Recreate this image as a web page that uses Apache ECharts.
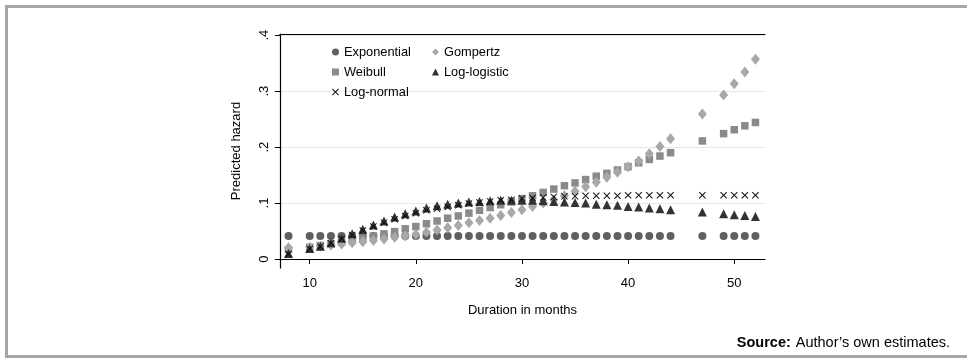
<!DOCTYPE html>
<html>
<head>
<meta charset="utf-8">
<script src="https://cdn.jsdelivr.net/npm/echarts@6/dist/echarts.min.js"></script>
<style>
html, body { margin: 0; padding: 0; background: #fff; }
#chart { width: 967px; height: 358px; }
</style>
</head>
<body>
<div id="chart"></div>
<script>
// months with predictions (gaps at 9, 45, 46, 48)
var months = [8, 10, 11, 12, 13, 14, 15, 16, 17, 18, 19, 20, 21, 22, 23, 24, 25, 26, 27, 28, 29,
	30, 31, 32, 33, 34, 35, 36, 37, 38, 39, 40, 41, 42, 43, 44, 47, 49, 50, 51, 52];

var exponential = [0.041, 0.041, 0.041, 0.041, 0.041, 0.041, 0.041, 0.041, 0.041, 0.041, 0.041,
	0.041, 0.041, 0.041, 0.041, 0.041, 0.041, 0.041, 0.041, 0.041, 0.041, 0.041, 0.041, 0.041,
	0.041, 0.041, 0.041, 0.041, 0.041, 0.041, 0.041, 0.041, 0.041, 0.041, 0.041, 0.041, 0.041,
	0.041, 0.041, 0.041, 0.041];

var weibull = [0.017, 0.021, 0.024, 0.027, 0.030, 0.033, 0.037, 0.041, 0.045, 0.049, 0.054,
	0.058, 0.063, 0.068, 0.073, 0.077, 0.082, 0.087, 0.092, 0.097, 0.102, 0.108, 0.113, 0.119,
	0.125, 0.131, 0.136, 0.142, 0.148, 0.153, 0.159, 0.165, 0.172, 0.178, 0.184, 0.190, 0.211,
	0.224, 0.231, 0.238, 0.244];

var gompertz = [0.020, 0.021, 0.023, 0.025, 0.027, 0.029, 0.031, 0.033, 0.036, 0.039, 0.041,
	0.044, 0.048, 0.052, 0.056, 0.060, 0.065, 0.069, 0.073, 0.078, 0.083, 0.088, 0.094, 0.100,
	0.106, 0.113, 0.121, 0.129, 0.137, 0.146, 0.155, 0.165, 0.175, 0.188, 0.201, 0.215, 0.259,
	0.293, 0.313, 0.334, 0.357];

var logLogistic = [0.010, 0.019, 0.023, 0.029, 0.037, 0.045, 0.053, 0.061, 0.068, 0.075, 0.081,
	0.086, 0.091, 0.095, 0.098, 0.100, 0.102, 0.103, 0.104, 0.105, 0.105, 0.105, 0.105, 0.104,
	0.103, 0.102, 0.101, 0.100, 0.098, 0.097, 0.096, 0.094, 0.093, 0.091, 0.090, 0.088, 0.084,
	0.081, 0.079, 0.078, 0.076];

var logNormal = [0.009, 0.018, 0.022, 0.028, 0.036, 0.043, 0.051, 0.058, 0.065, 0.071, 0.077,
	0.082, 0.087, 0.090, 0.093, 0.096, 0.099, 0.101, 0.103, 0.105, 0.106, 0.108, 0.109, 0.110,
	0.111, 0.112, 0.112, 0.113, 0.113, 0.113, 0.113, 0.114, 0.114, 0.114, 0.114, 0.114, 0.114,
	0.114, 0.114, 0.114, 0.114];

var xTicks = [10, 20, 30, 40, 50];
var yTicks = [0, 0.1, 0.2, 0.3, 0.4];
var yTickLabels = ['0', '.1', '.2', '.3', '.4'];

var font = "'Liberation Sans', Arial, sans-serif";
var crossPath = 'path://M0,1L1,0L5,4L9,0L10,1L6,5L10,9L9,10L5,6L1,10L0,9L4,5Z';

function pairs(vals) { // [month, value]
	return months.map(function(m, i) { return [m, vals[i]]; });
}

function scatter(name, vals, symbol, size, color) {
	return {
		name: name,
		type: 'scatter',
		data: pairs(vals),
		symbol: symbol,
		symbolSize: size,
		itemStyle: { color: color, opacity: 1 },
		emphasis: { disabled: true },
		silent: true
	};
}

var myChart = echarts.init(document.getElementById('chart'));
var option = {
	animation: false,
	backgroundColor: '#fff',
	textStyle: { fontFamily: font },
	title: {
		text: '{b|Source:} {n|Author\u2019s own estimates.}',
		right: 12,
		top: 329,
		textStyle: {
			rich: {
				b: { fontFamily: font, fontSize: 14.5, fontWeight: 'bold', color: '#000' },
				n: { fontFamily: font, fontSize: 14.5, fontWeight: 'normal', color: '#000' }
			}
		}
	},
	graphic: [{
		type: 'rect',
		shape: { x: 6.5, y: 6.5, width: 980, height: 350 },
		style: { fill: 'none', stroke: '#a6a6a6', lineWidth: 3 },
		silent: true
	}],
	legend: [{
		orient: 'vertical',
		left: 327,
		top: 40,
		itemWidth: 7,
		itemHeight: 7,
		itemGap: 6,
		data: ['Exponential', 'Weibull', 'Log-normal'],
		textStyle: { fontFamily: font, fontSize: 12.8, color: '#000', lineHeight: 14 }
	}, {
		orient: 'vertical',
		left: 427,
		top: 40,
		itemWidth: 7,
		itemHeight: 7,
		itemGap: 6,
		data: ['Gompertz', 'Log-logistic'],
		textStyle: { fontFamily: font, fontSize: 12.8, color: '#000', lineHeight: 14 }
	}],
	grid: { left: 280, right: 202, top: 34, bottom: 90 },
	xAxis: [{
		type: 'value',
		min: 7.2,
		max: 52.9,
		name: 'Duration in months',
		nameLocation: 'middle',
		nameGap: 36,
		nameTextStyle: { fontFamily: font, fontSize: 13, color: '#000' },
		axisLine: { lineStyle: { color: '#000', width: 1.2 } },
		axisTick: { customValues: xTicks, length: 5, lineStyle: { color: '#000' } },
		axisLabel: { customValues: xTicks, margin: 9, fontFamily: font, fontSize: 13, color: '#000' },
		splitLine: { show: false }
	}, {
		type: 'value',
		position: 'top',
		min: 7.2,
		max: 52.9,
		axisLine: { show: true, lineStyle: { color: '#000', width: 1.2 } },
		axisTick: { show: false },
		axisLabel: { show: false },
		splitLine: { show: false }
	}],
	yAxis: {
		type: 'value',
		min: -0.016,
		max: 0.402,
		name: 'Predicted hazard',
		nameLocation: 'middle',
		nameGap: 37,
		nameRotate: 90,
		nameTextStyle: { fontFamily: font, fontSize: 13, color: '#000' },
		axisLine: { show: true, lineStyle: { color: '#000', width: 1.2 } },
		axisTick: { show: true, customValues: yTicks, length: 5, lineStyle: { color: '#000' } },
		axisLabel: {
			customValues: yTicks,
			rotate: 90,
			margin: 9,
			fontFamily: font,
			fontSize: 13,
			color: '#000',
			formatter: function(v) {
				var i = yTicks.indexOf(v);
				return i >= 0 ? yTickLabels[i] : '';
			}
		},
		splitLine: { show: true, lineStyle: { color: '#e6e6e6', width: 1 } }
	},
	series: [
		scatter('Exponential', exponential, 'circle', 8, '#606060'),
		scatter('Weibull', weibull, 'rect', 7.5, '#8a8a8a'),
		scatter('Gompertz', gompertz, 'diamond', [9, 11], '#a8a8a8'),
		scatter('Log-logistic', logLogistic, 'triangle', 9, '#333333'),
		scatter('Log-normal', logNormal, crossPath, 7, '#111111')
	]
};
myChart.setOption(option); // 载入配置
</script>
</body>
</html>
